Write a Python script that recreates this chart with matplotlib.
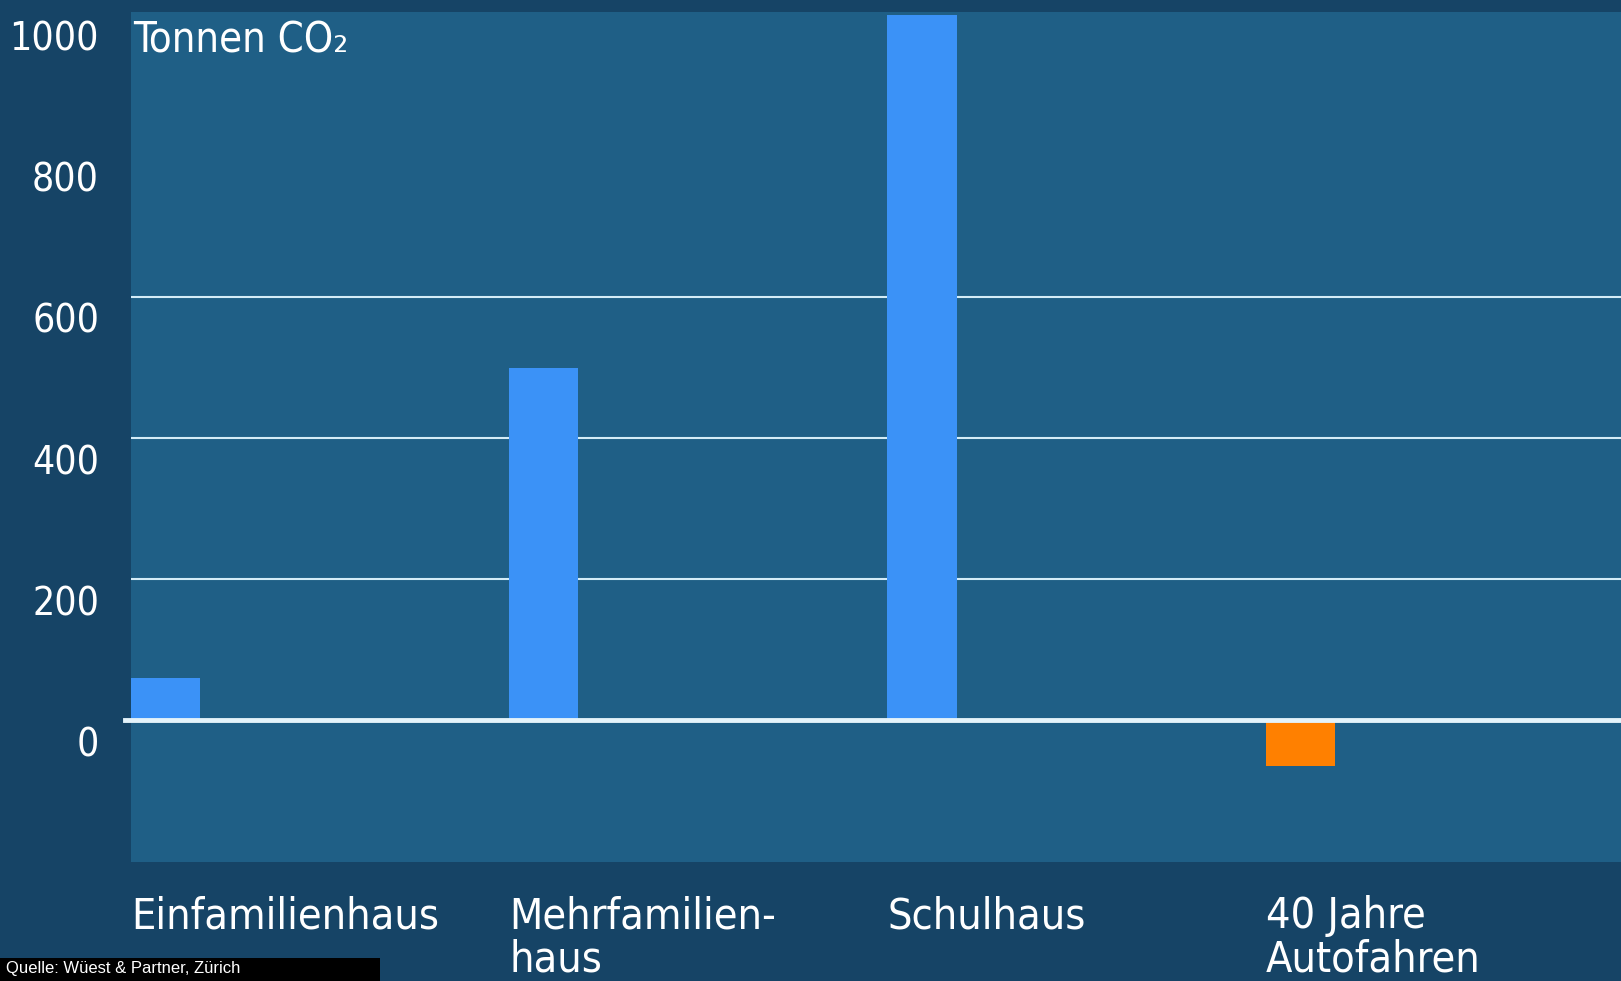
import matplotlib
matplotlib.use("Agg")
import matplotlib.pyplot as plt
from matplotlib.transforms import ScaledTranslation

# Data
categories = ["Einfamilienhaus", "Mehrfamilien-\nhaus", "Schulhaus", "40 Jahre\nAutofahren"]
values = [60, 500, 1000, -65]
bar_colors = ["#3b92f7", "#3b92f7", "#3b92f7", "#ff8000"]
y_ticks = [0, 200, 400, 600, 800, 1000]
y_tick_labels = ["0", "200", "400", "600", "800", "1000"]
grid_values = [200, 400, 600]
unit_label = "Tonnen CO\u2082"
source_note = "Quelle: Wüest & Partner, Zürich"

OUTER = "#164466"
PLOT_BG = "#1f5f86"
LINE = "#d4ecf7"
FONT = dict(family=["DejaVu Sans"], fontstretch="condensed")

W, H, DPI = 1621, 981, 100
fig = plt.figure(figsize=(W / DPI, H / DPI), dpi=DPI, facecolor=OUTER)

left, right, top, bottom = 131, 1621, 12, 862
ax = fig.add_axes([left / W, (H - bottom) / H, (right - left) / W, (bottom - top) / H])
ax.set_facecolor(PLOT_BG)
for s in ax.spines.values():
    s.set_visible(False)

positions = list(range(len(categories)))
bar_width = 0.183
ax.bar(positions, values, width=bar_width, align="edge", color=bar_colors, zorder=3)

for g in grid_values:
    ax.axhline(g, color=LINE, lw=1.5, zorder=1)
ax.axhline(0, color="#e4f3fa", lw=3.5, zorder=4, xmin=-0.004, clip_on=False)

ax.set_xlim(0, 3.94)
ax.set_ylim(-201, 1004)

# y ticks: labels sit a little below their value
ax.set_yticks(y_ticks)
ax.set_yticklabels(y_tick_labels, fontsize=28, color="white", **FONT)
ax.tick_params(axis="y", length=0, pad=23)
shift = ScaledTranslation(0, -21 / DPI, fig.dpi_scale_trans)
for lab in ax.get_yticklabels():
    lab.set_transform(lab.get_transform() + shift)

# category labels under the bars, aligned with each bar's left edge
ax.set_xticks(positions)
ax.set_xticklabels(categories, fontsize=31, color="white",
                   ha="left", va="top", linespacing=1.05, **FONT)
ax.tick_params(axis="x", length=0, pad=24)

# unit label inside the plot area
ax.text(2 / (right - left), 0.991, unit_label, transform=ax.transAxes,
        ha="left", va="top", fontsize=30, color="white", **FONT)

# source note box at the lower left
fig.patches.append(plt.Rectangle((0, 0), 380 / W, (H - 958) / H,
                                 transform=fig.transFigure, facecolor="black",
                                 edgecolor="none", zorder=5))
fig.text(6 / W, (H - 961) / H, source_note, ha="left", va="top",
         fontsize=12, color="white", family=["Liberation Sans", "DejaVu Sans"],
         zorder=6)

fig.savefig("out.png", dpi=DPI, facecolor=OUTER)
